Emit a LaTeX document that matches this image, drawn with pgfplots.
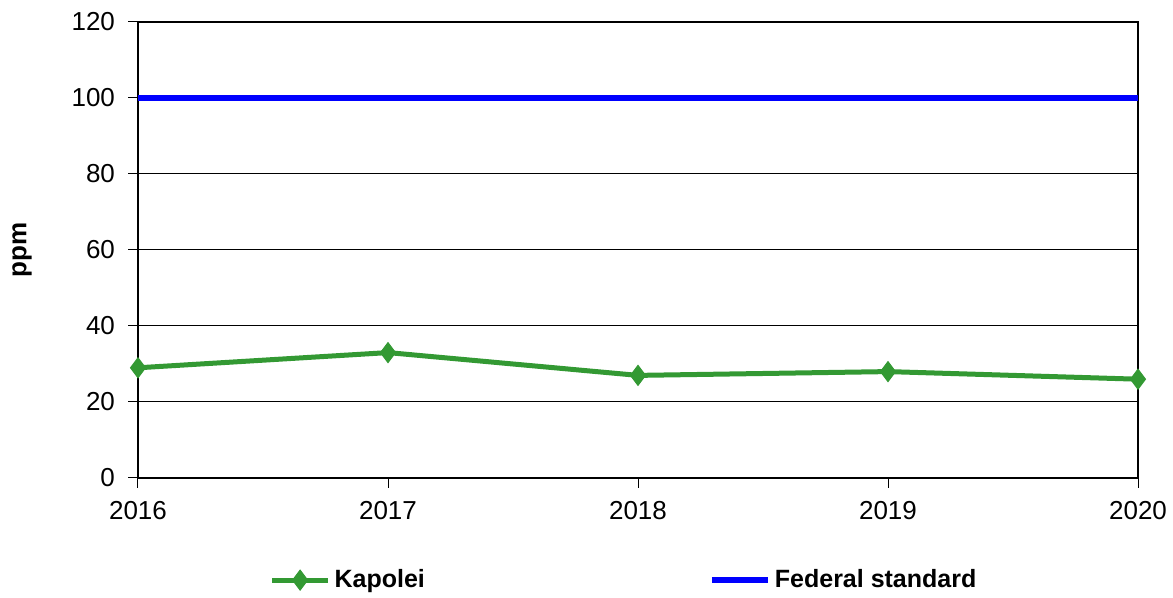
\documentclass[border=0pt]{standalone}
\usepackage{pgfplots}
\pgfplotsset{compat=1.18}
\usepackage{fontspec}
\setmainfont{Liberation Sans}
\definecolor{kgreen}{HTML}{339933}
\begin{document}
\begin{tikzpicture}
\begin{axis}[
  scale only axis,
  width=500pt, height=228pt,
  xmin=2016, xmax=2020, ymin=0, ymax=120,
  xtick={2016,2017,2018,2019,2020},
  ytick={0,20,40,60,80,100,120},
  /pgf/number format/1000 sep={},
  /pgf/number format/assume math mode=true,
  tick label style={font=\fontsize{13}{15}\selectfont, text=black},
  ymajorgrids,
  grid style={black, line width=0.5pt},
  axis line style={black, line width=1pt},
  tick style={black, line width=0.5pt},
  tick align=outside,
  major tick length=5pt,
  xtick pos=bottom, ytick pos=left,
  xticklabel style={yshift=-3pt},
  yticklabel style={xshift=-3pt},
  ylabel={\textbf{ppm}},
  ylabel style={at={(-0.116,0.5)}, anchor=center, font=\fontsize{13}{15}\selectfont},
  clip=false,
  legend columns=2,
  legend style={draw=none, at={(0.487,-0.224)}, anchor=center, font=\fontsize{12.5}{15}\selectfont\bfseries, /tikz/every even column/.append style={column sep=140pt}},
  legend image code/.code={
    \draw[#1, mark repeat=2, mark phase=2] plot coordinates {(0pt,0pt) (14pt,0pt) (28pt,0pt)};
  },
]
\addplot[color=kgreen, line width=2.5pt, mark=diamond*, mark size=5pt, mark options={solid, fill=kgreen, line width=0.5pt}]
  coordinates {(2016,29) (2017,33) (2018,27) (2019,28) (2020,26)};
\addlegendentry{Kapolei}
\addplot[color=blue, line width=3pt, mark=none]
  coordinates {(2016,100) (2017,100) (2018,100) (2019,100) (2020,100)};
\addlegendentry{Federal standard}
\end{axis}
\pgfresetboundingbox
\useasboundingbox (-69pt,-60pt) rectangle (517.5pt,239pt);
\end{tikzpicture}
\end{document}
